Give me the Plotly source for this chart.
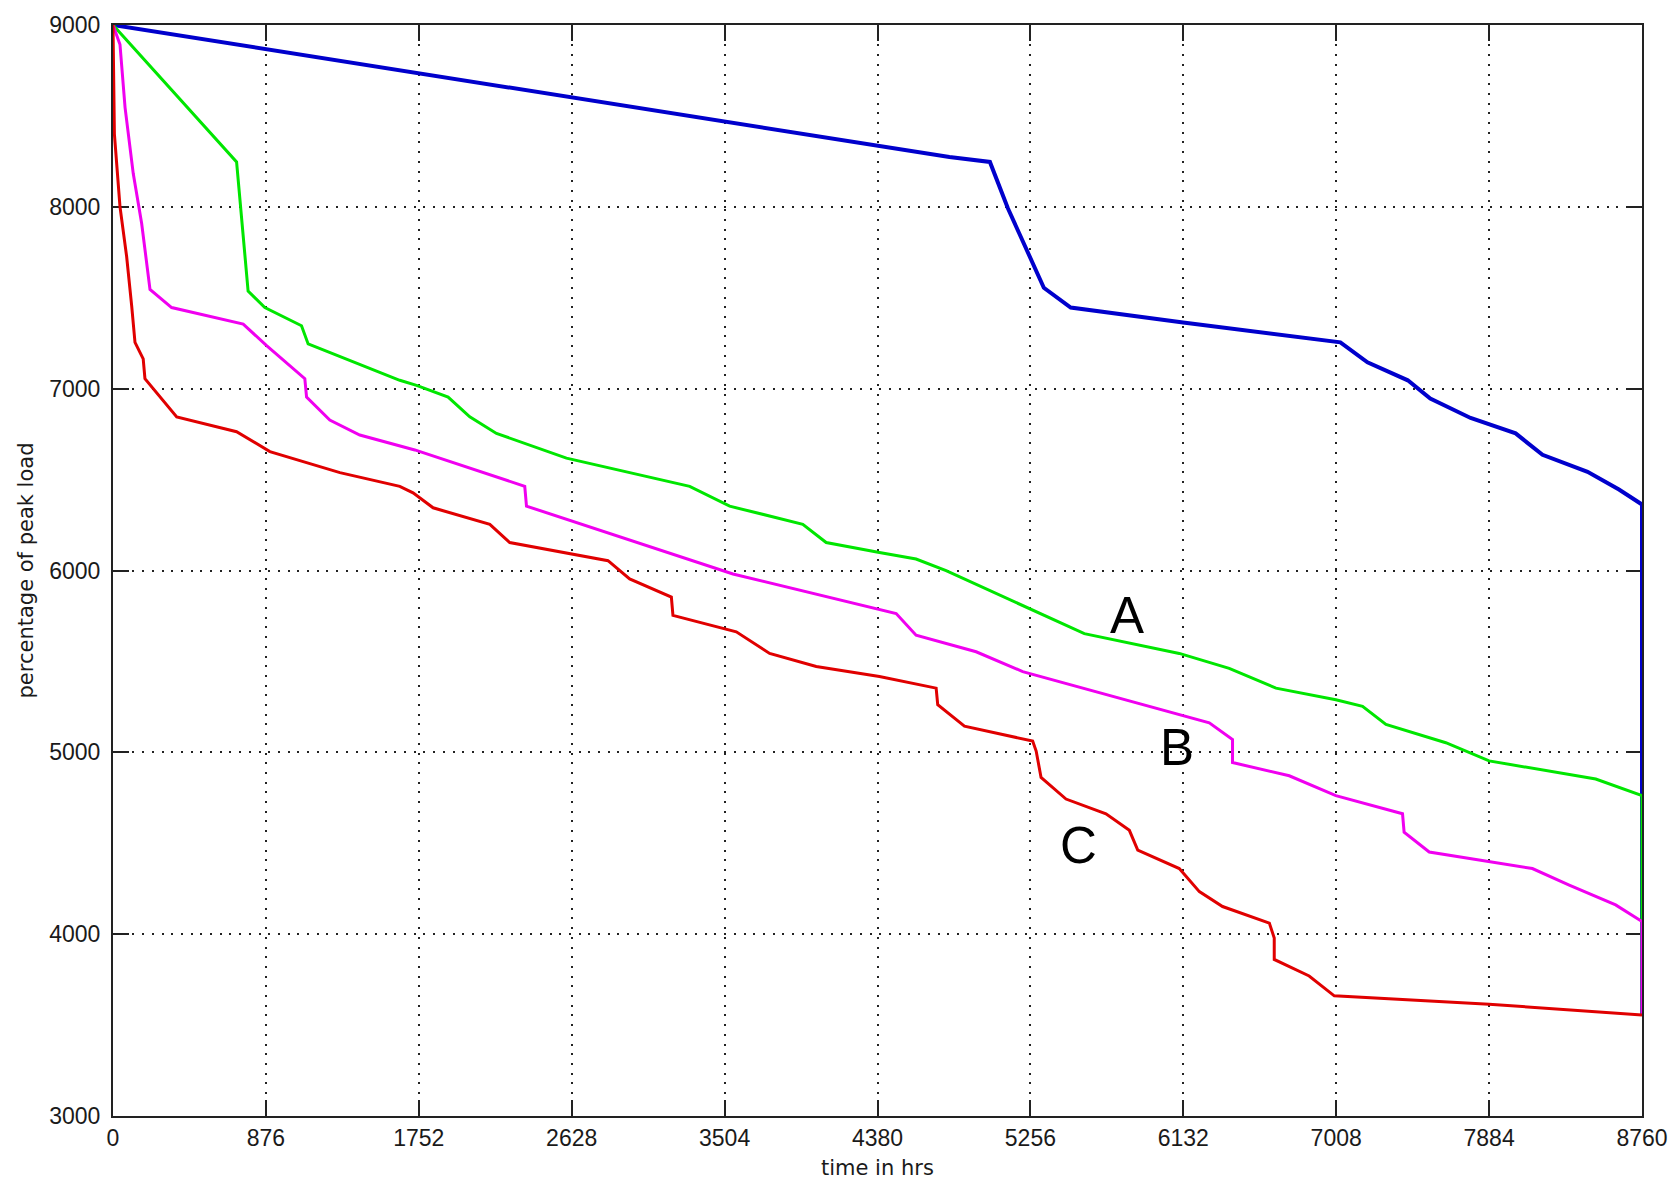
import plotly.graph_objects as go

# ---- data ----
x_ticks = [0, 876, 1752, 2628, 3504, 4380, 5256, 6132, 7008, 7884, 8760]
y_ticks = [3000, 4000, 5000, 6000, 7000, 8000, 9000]

blue_x = [0, 4792, 5024, 5127, 5333, 5487, 6131, 7032, 7187, 7418, 7547, 7778,
          8036, 8190, 8448, 8628, 8760, 8760]
blue_y = [9000, 8274, 8247, 7992, 7555, 7446, 7364, 7255, 7145, 7046, 6945, 6839,
          6754, 6636, 6543, 6445, 6363, 3555]

green_x = [0, 708, 774, 870, 1080, 1118, 1643, 1739, 1920, 2044, 2197, 2598, 3304,
           3533, 3952, 4086, 4391, 4601, 4773, 5250, 5565, 6109, 6395, 6663, 7006,
           7159, 7293, 7636, 7884, 8495, 8760, 8760]
green_y = [9000, 8247, 7537, 7446, 7346, 7246, 7046, 7018, 6954, 6845, 6754, 6618, 6463,
           6354, 6254, 6154, 6099, 6063, 5999, 5790, 5653, 5544, 5462, 5353, 5289,
           5253, 5153, 5053, 4953, 4853, 4762, 3555]

magenta_x = [0, 40, 69, 116, 164, 212, 336, 746, 880, 1099, 1109, 1242, 1414, 1729,
             2359, 2369, 3552, 4487, 4601, 4945, 5212, 6281, 6414, 6414, 6739, 7006,
             7388, 7397, 7541, 7884, 8132, 8343, 8609, 8760, 8760]
magenta_y = [9000, 8893, 8547, 8183, 7910, 7546, 7446, 7355, 7237, 7055, 6954, 6827, 6745, 6663,
             6463, 6354, 5981, 5763, 5644, 5553, 5444, 5162, 5071, 4944, 4871, 4762,
             4662, 4561, 4452, 4398, 4361, 4270, 4161, 4070, 3555]

red_x = [0, 8, 40, 78, 107, 126, 173, 183, 365, 708, 899, 1300, 1643, 1719, 1834, 2159,
         2273, 2635, 2836, 2960, 3199, 3208, 3571, 3762, 4029, 4391, 4716, 4725, 4878,
         5269, 5289, 5317, 5460, 5689, 5823, 5871, 6109, 6224, 6357, 6625, 6653, 6653,
         6853, 6997, 7884, 8760, 8760]
red_y = [9000, 8400, 8001, 7728, 7455, 7255, 7164, 7055, 6845, 6763, 6654, 6538, 6463, 6427, 6345, 6254,
         6154, 6090, 6054, 5954, 5854, 5753, 5663, 5544, 5472, 5417, 5353, 5262, 5144,
         5062, 5007, 4862, 4743, 4662, 4571, 4462, 4361, 4234, 4152, 4061, 3979, 3861,
         3770, 3661, 3615, 3555, 3550]

labels = ["A", "B", "C"]
label_x = [5808, 6098, 5531]
label_y = [5750, 5026, 4485]

# ---- figure ----
fig = go.Figure()
series = [
    (blue_x, blue_y, "#0000cc", 4),
    (green_x, green_y, "#00e600", 3),
    (magenta_x, magenta_y, "#f000f0", 3),
    (red_x, red_y, "#e00000", 3),
]
for xs, ys, col, w in series:
    fig.add_trace(go.Scatter(x=xs, y=ys, mode="lines",
                             line=dict(color=col, width=w), showlegend=False,
                             hoverinfo="skip"))

for t, lx, ly in zip(labels, label_x, label_y):
    fig.add_annotation(x=lx, y=ly, text=t, showarrow=False,
                       font=dict(family="Liberation Sans, Arial", size=51, color="black"))

axis_common = dict(
    showline=True, linecolor="#222", linewidth=2, mirror="ticks",
    ticks="inside", ticklen=16, tickwidth=2, tickcolor="#222",
    showgrid=True, gridcolor="#222", gridwidth=1.5, griddash="2px,7.7px",
    zeroline=False, layer="below traces",
    tickfont=dict(family="Liberation Sans, Arial", size=23, color="#1a1a1a"),
)

fig.update_xaxes(range=[0, 8760], tickmode="array", tickvals=x_ticks,
                 ticktext=[str(v) for v in x_ticks], ticklabelstandoff=0, **axis_common)
fig.update_yaxes(range=[3000, 9000], tickmode="array", tickvals=y_ticks,
                 ticktext=[str(v) for v in y_ticks], ticklabelstandoff=6, **axis_common)

fig.add_annotation(xref="paper", yref="paper", x=0.5, y=-0.0473, text="time in hrs",
                   showarrow=False, yanchor="middle",
                   font=dict(family="DejaVu Sans", size=21, color="#1a1a1a"))
fig.add_annotation(xref="paper", yref="paper", x=-0.0569, y=0.5,
                   text="percentage of peak load", textangle=-90, showarrow=False,
                   xanchor="center", yanchor="middle",
                   font=dict(family="DejaVu Sans", size=21, color="#1a1a1a"))

fig.update_layout(
    width=1680, height=1182,
    margin=dict(l=113, r=37, t=17, b=66),
    paper_bgcolor="white", plot_bgcolor="white",
)

fig.write_html("out.html")
